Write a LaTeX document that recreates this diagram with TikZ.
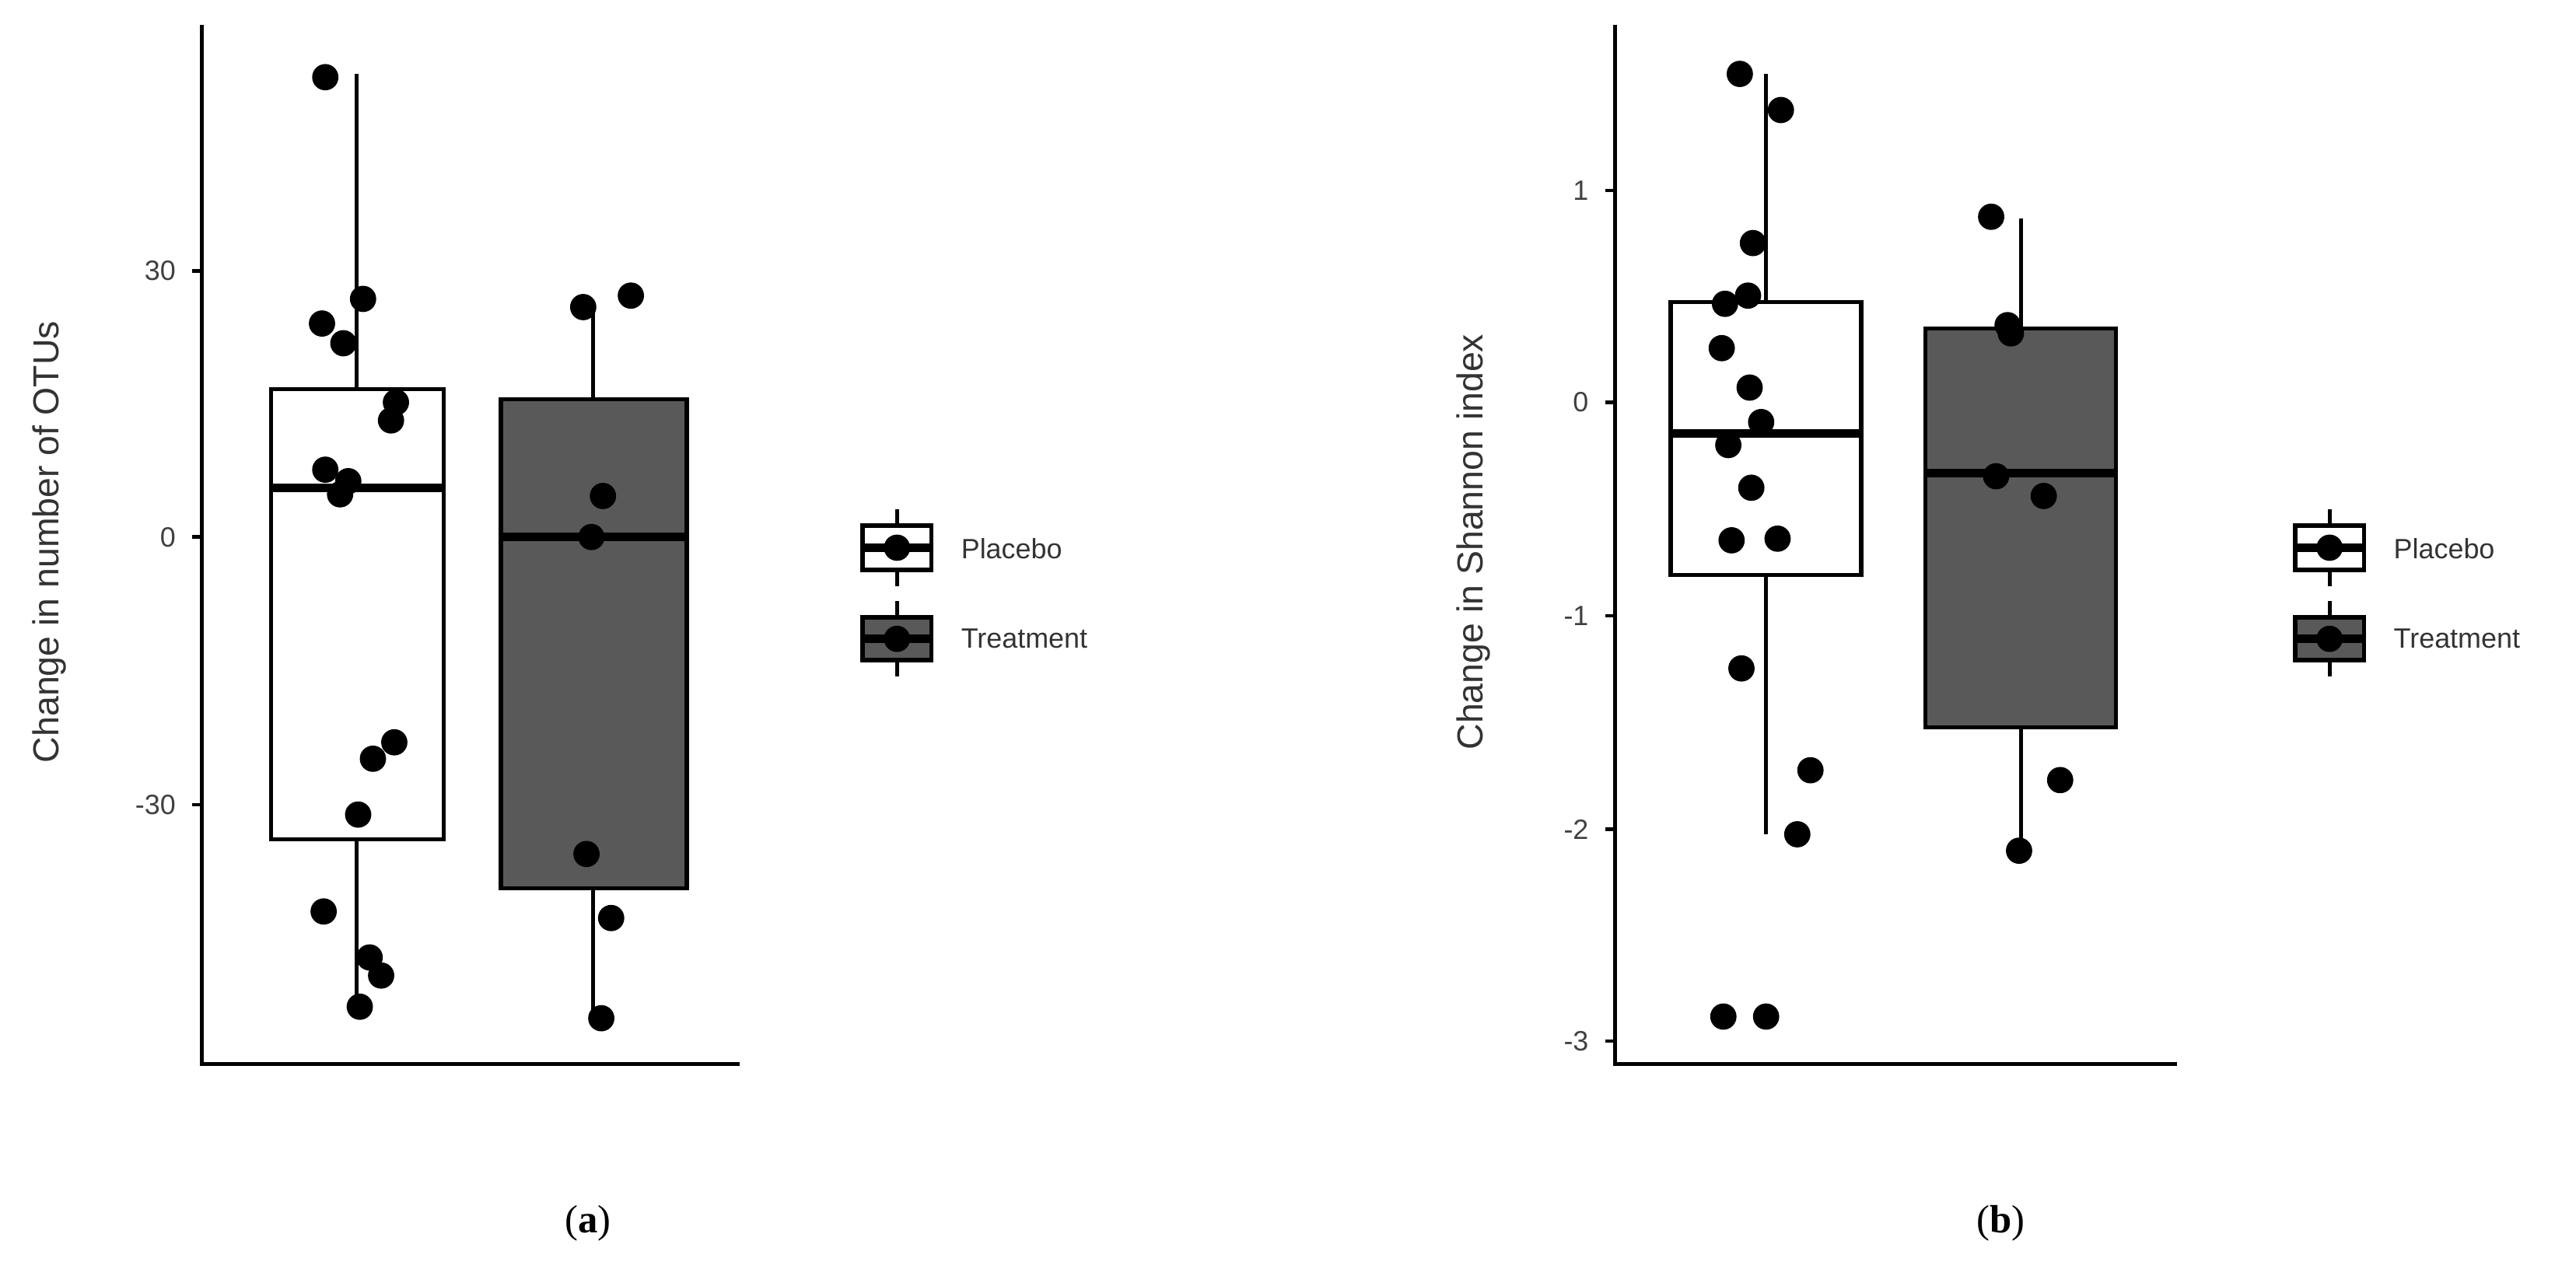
\documentclass[tikz,border=0pt]{standalone}
\usepackage{fontspec}
\setmainfont{Liberation Sans}
\newfontfamily\capfont{Liberation Serif}
\begin{document}
\begin{tikzpicture}[x=0.5pt,y=-0.5pt,
  ax/.style={line width=1.1pt},
  bx/.style={draw=black,line width=1.3pt},
  med/.style={line width=2.6pt},
  wh/.style={line width=1.2pt},
  pt/.style={fill=black},
  tick/.style={font=\fontsize{8.5}{10}\selectfont\color{black!75},anchor=east},
  lab/.style={font=\fontsize{11}{13}\selectfont\color{black!80},rotate=90},
  leg/.style={font=\fontsize{8.5}{10}\selectfont\color{black!80},anchor=west},
  captxt/.style={font=\capfont\fontsize{12}{14}\selectfont}]
\useasboundingbox (0,0) rectangle (1568,770);
\definecolor{tg}{RGB}{89,89,89}
% ---------- panel a ----------
\draw[ax] (123,15) -- (123,648) -- (450,648);
\foreach \y/\t in {165/30,327/0,490/-30}{
  \draw[ax] (117,\y) -- (123,\y);
  \node[tick] at (114,\y) {\t};}
\node[lab] at (30,330) {Change in number of OTUs};
\draw[wh] (217,45) -- (217,612);
\filldraw[bx,fill=white] (165,237) rectangle (270,511);
\draw[med] (165,297) -- (270,297);
\draw[wh] (361,183) -- (361,620);
\filldraw[bx,fill=tg] (305,243) rectangle (418,541);
\draw[med] (305,327) -- (418,327);
\foreach \x/\y in {198/47,221/182,196/197,209/209,241/245,238/256,198/286,212/293,207/301,240/452,227/462,218/496,197/555,225/583,232/594,219/613,355/187,384/180,367/302,360/327,357/520,372/559,366/620}
  \fill[pt] (\x,\y) circle[radius=8];
% legend a
\draw[wh] (546,310) -- (546,357);
\filldraw[bx,fill=white] (525,320) rectangle (567,347);
\draw[med] (525,333.5) -- (567,333.5);
\fill (546,333.5) circle[radius=8];
\draw[wh] (546,366) -- (546,412);
\filldraw[bx,fill=tg] (525,376) rectangle (567,402);
\draw[med] (525,389) -- (567,389);
\fill (546,389) circle[radius=8];
\node[leg] at (578,334) {Placebo};
\node[leg] at (578,389) {Treatment};
\node[captxt] at (358,745) {(\textbf{a})};
% ---------- panel b ----------
\draw[ax] (983,15) -- (983,648) -- (1325,648);
\foreach \y/\t in {116/1,245/0,375/-1,505/-2,634/-3}{
  \draw[ax] (977,\y) -- (983,\y);
  \node[tick] at (974,\y) {\t};}
\node[lab] at (897,330) {Change in Shannon index};
\draw[wh] (1075,45) -- (1075,508);
\filldraw[bx,fill=white] (1017,184) rectangle (1133,350);
\draw[med] (1017,264) -- (1133,264);
\draw[wh] (1230,133) -- (1230,518);
\filldraw[bx,fill=tg] (1172,200) rectangle (1288,443);
\draw[med] (1172,288) -- (1288,288);
\foreach \x/\y in {1059/45,1084/67,1067/148,1064/180,1050/185,1048/212,1065/236,1072/257,1052/271,1066/297,1054/329,1082/328,1060/407,1102/469,1094/508,1049/619,1075/619,1212/132,1222/198,1224/203,1215/290,1244/302,1254/475,1229/518}
  \fill[pt] (\x,\y) circle[radius=8];
% legend b
\draw[wh] (1418,310) -- (1418,357);
\filldraw[bx,fill=white] (1397,320) rectangle (1439,347);
\draw[med] (1397,333.5) -- (1439,333.5);
\fill (1418,333.5) circle[radius=8];
\draw[wh] (1418,366) -- (1418,412);
\filldraw[bx,fill=tg] (1397,376) rectangle (1439,402);
\draw[med] (1397,389) -- (1439,389);
\fill (1418,389) circle[radius=8];
\node[leg] at (1450,334) {Placebo};
\node[leg] at (1450,389) {Treatment};
\node[captxt] at (1218,745) {(\textbf{b})};
\end{tikzpicture}
\end{document}
